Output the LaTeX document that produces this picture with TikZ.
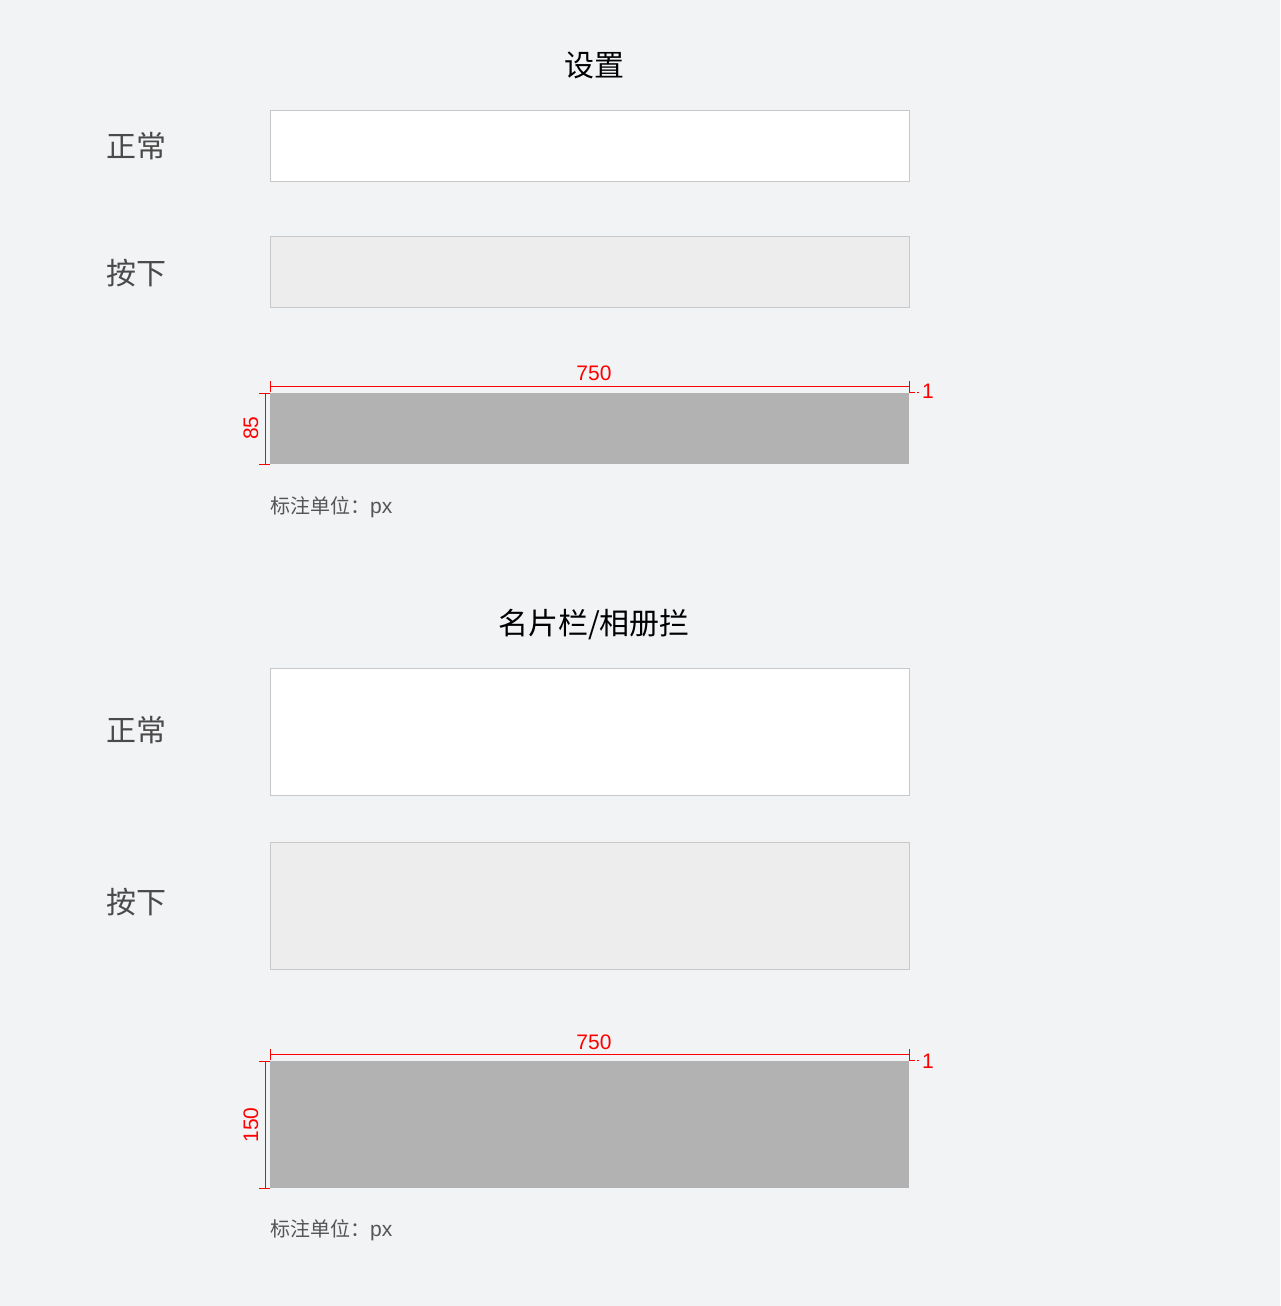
\documentclass[tikz,border=0pt]{standalone}
\usepackage{fontspec}
\setmainfont{Noto Sans CJK SC}
\newfontfamily\latinfont{Liberation Sans}
\usetikzlibrary{positioning}

\definecolor{pagebg}{HTML}{F2F3F5}
\definecolor{boxline}{HTML}{C8C8C8}
\definecolor{pressfill}{HTML}{EDEDED}
\definecolor{sizefill}{HTML}{B2B2B2}
\definecolor{labelgray}{HTML}{4A4A4A}
\definecolor{notegray}{HTML}{555555}
\definecolor{dimred}{HTML}{FF0000}

\tikzset{
  title/.style={font=\fontsize{30}{36}\selectfont, text=black},
  statelabel/.style={font=\fontsize{30}{36}\selectfont, text=labelgray},
  itembox/.style={draw=boxline, line width=1pt, anchor=north west, inner sep=0pt,
    minimum width=639pt},
  sizebox/.style={fill=sizefill, anchor=north west, inner sep=0pt, minimum width=639pt},
  dimline/.style={draw=dimred, line width=1pt},
  dimtext/.style={font=\latinfont\fontsize{21}{25}\selectfont, text=dimred, inner sep=0pt},
  note/.style={font=\fontsize{20}{24}\selectfont, text=notegray, anchor=west, inner sep=0pt}
}
\newcommand{\unitnote}{标注单位：{\latinfont\fontsize{21}{25}\selectfont px}}

\begin{document}
\begin{tikzpicture}[x=1pt, y=-1pt]
\fill[pagebg] (0,0) rectangle (1280,1306);
\useasboundingbox (0,0) rectangle (1280,1306);

% settings row
\node[title] (settitle) at (594,65) {设置};
\node[statelabel] (setnormal) at (136,146) {正常};
\node[itembox, fill=white, minimum height=71pt] (setbox1) at (270,110) {};
\node[statelabel] (setpress) at (136,273) {按下};
\node[itembox, fill=pressfill, minimum height=71pt] (setbox2) at (270,236) {};

% size of settings row
\node[sizebox, minimum height=71pt] (setsize) at (270,393) {};
\node[dimtext] (setwidth) at (594,373) {750};
\node[dimtext, rotate=90] (setheight) at (251,428) {85};
\node[dimtext] (setgap) at (928,391) {1};
\coordinate (sw1) at (270,386);
\coordinate (sw2) at (909,386);
\draw[dimline] (sw1) -- (sw2);
\draw[dimline] (270,381) -- (270,392);
\draw[dimline] (909,381) -- (909,392) -- (913,392);
\draw[dimline, dash pattern=on 2pt off 2pt] (913,392) -- (919,392);
\draw[dimline] (265,393) -- (265,464);
\draw[dimline] (259,393) -- (270,393);
\draw[dimline] (259,464) -- (270,464);
\node[note] (setnote) at (270,507) {\unitnote};

% card / album row
\node[title] (cardtitle) at (594,625) {名片栏/相册拦};
\node[statelabel] (cardnormal) at (136,730) {正常};
\node[itembox, fill=white, minimum height=127pt] (cardbox1) at (270,668) {};
\node[statelabel] (cardpress) at (136,902) {按下};
\node[itembox, fill=pressfill, minimum height=127pt] (cardbox2) at (270,842) {};

% size of card row
\node[sizebox, minimum height=127pt] (cardsize) at (270,1061) {};
\node[dimtext] (cardwidth) at (594,1042) {750};
\node[dimtext, rotate=90] (cardheight) at (251,1125) {150};
\node[dimtext] (cardgap) at (928,1061) {1};
\coordinate (cw1) at (270,1054);
\coordinate (cw2) at (909,1054);
\draw[dimline] (cw1) -- (cw2);
\draw[dimline] (270,1049) -- (270,1060);
\draw[dimline] (909,1049) -- (909,1060) -- (913,1060);
\draw[dimline, dash pattern=on 2pt off 2pt] (913,1060) -- (919,1060);
\draw[dimline] (265,1061) -- (265,1188);
\draw[dimline] (259,1061) -- (270,1061);
\draw[dimline] (259,1188) -- (270,1188);
\node[note] (cardnote) at (270,1230) {\unitnote};
\end{tikzpicture}
\end{document}
